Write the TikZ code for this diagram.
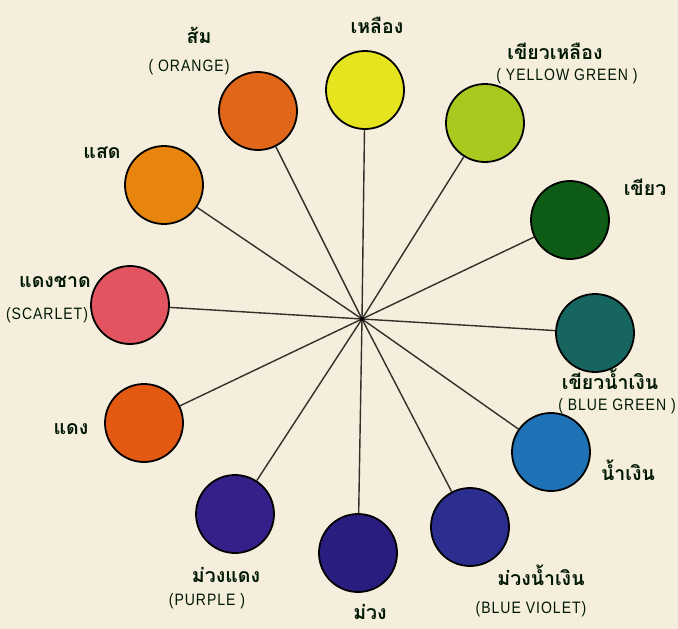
\documentclass[tikz,border=0pt]{standalone}
\usepackage{fontspec}
\setmainfont{Liberation Sans}
\newfontfamily\thaifont[Script=Thai]{Loma}
\newfontfamily\enfont[FakeStretch=0.85,LetterSpace=6]{Liberation Sans}
\begin{document}
\begin{tikzpicture}[x=1pt,y=-1pt,
  swatch/.style={circle, draw=black, line width=1.8pt, minimum size=78pt, inner sep=0pt},
  spoke/.style={draw=black!85!olive, line width=1.4pt},
  thlab/.style={font=\thaifont\bfseries\fontsize{19.5}{20}\selectfont, text=black!90!green, inner sep=0pt, anchor=base},
  enlab/.style={font=\enfont\fontsize{16.5}{16}\selectfont, text=black!90!green, inner sep=0pt, anchor=base}]
\definecolor{bg}{HTML}{F5EEDC}
\definecolor{cyellow}{HTML}{E6E41E}
\definecolor{corange}{HTML}{E0661A}
\definecolor{cyg}{HTML}{A9C921}
\definecolor{cgreen}{HTML}{0F5C16}
\definecolor{cbg}{HTML}{17655F}
\definecolor{cblue}{HTML}{1F72B5}
\definecolor{cbv}{HTML}{2B2E8E}
\definecolor{cviolet}{HTML}{2A1D80}
\definecolor{cpurple}{HTML}{35208A}
\definecolor{cred}{HTML}{E35912}
\definecolor{cscarlet}{HTML}{E2545F}
\definecolor{cvermil}{HTML}{E8850F}
\fill[bg] (0,0) rectangle (678,629);
\useasboundingbox (0,0) rectangle (678,629);

\coordinate (hub) at (362,319);
\node[swatch, fill=cyellow] (yellow) at (365,90) {};
\node[swatch, fill=corange] (orange) at (258,111) {};
\node[swatch, fill=cyg] (yg) at (485,123) {};
\node[swatch, fill=cgreen] (green) at (570,220) {};
\node[swatch, fill=cbg] (bg) at (595,333) {};
\node[swatch, fill=cblue] (blue) at (551,452) {};
\node[swatch, fill=cbv] (bv) at (470,527) {};
\node[swatch, fill=cviolet] (violet) at (358,553) {};
\node[swatch, fill=cpurple] (purple) at (235,514) {};
\node[swatch, fill=cred] (red) at (144,423) {};
\node[swatch, fill=cscarlet] (scarlet) at (130,305) {};
\node[swatch, fill=cvermil] (vermil) at (164,185) {};

\foreach \c in {yellow,orange,yg,green,bg,blue,bv,violet,purple,red,scarlet,vermil}
  \draw[spoke] (hub) -- (\c);
\fill[black] (hub) circle (2.2pt);

\node[thlab] (lyellow) at (377,34) {เหลือง};
\node[thlab] (lorange) at (199,43) {ส้ม};
\node[enlab] (eorange) at (189,71) {( ORANGE)};
\node[thlab] (lyg) at (555,59) {เขียวเหลือง};
\node[enlab] (eyg) at (567,80) {( YELLOW GREEN )};
\node[thlab] (lgreen) at (645,195) {เขียว};
\node[thlab] (lbg) at (610,389) {เขียวน้ำเงิน};
\node[enlab] (ebg) at (617,410) {( BLUE GREEN )};
\node[thlab] (lblue) at (628,480) {น้ำเงิน};
\node[thlab] (lbv) at (541,585) {ม่วงน้ำเงิน};
\node[enlab] (ebv) at (531,613) {(BLUE VIOLET)};
\node[thlab] (lviolet) at (370,619) {ม่วง};
\node[thlab] (lpurple) at (226,582) {ม่วงแดง};
\node[enlab] (epurple) at (207,605) {(PURPLE )};
\node[thlab] (lred) at (71,434) {แดง};
\node[thlab] (lscarlet) at (55,287) {แดงชาด};
\node[enlab] (escarlet) at (47,319) {(SCARLET)};
\node[thlab] (lvermil) at (102,158) {แสด};
\end{tikzpicture}
\end{document}
